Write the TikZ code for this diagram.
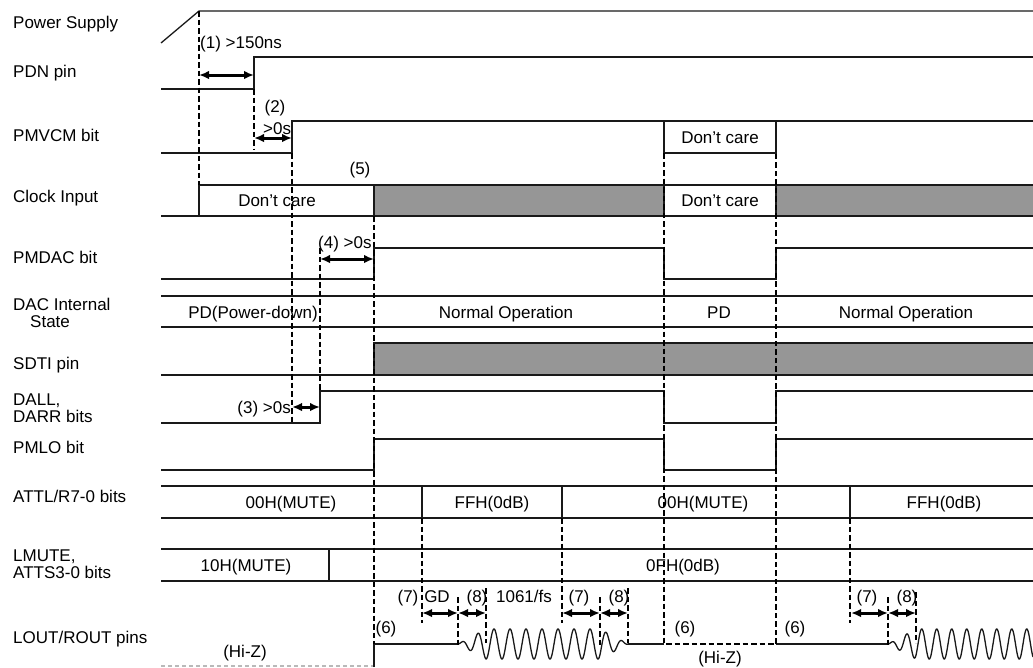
\documentclass[tikz,border=0pt]{standalone}
\usepackage{fontspec}
\setmainfont{Liberation Sans}
\usetikzlibrary{arrows.meta}
\definecolor{sdgray}{RGB}{150,150,150}
\definecolor{hizgray}{RGB}{185,185,185}
\definecolor{linecol}{RGB}{25,25,25}
\begin{document}
\begin{tikzpicture}[x=1pt,y=-1pt,
  sig/.style={line width=1.3pt, draw=linecol},
  tmark/.style={line width=2.4pt, dash pattern=on 5.5pt off 3pt},
  dimarrow/.style={line width=3pt, <->, >={Latex[length=10pt,width=8.5pt]}},
  hiz/.style={line width=1.1pt, draw=hizgray, dash pattern=on 4pt off 3pt},
  lbl/.style={anchor=base west, inner sep=0pt, font=\fontsize{17}{17}\selectfont},
  txt/.style={anchor=base, inner sep=0pt, font=\fontsize{17}{17}\selectfont},
]
\useasboundingbox (0,0) rectangle (1033,667);

% ---------- row labels ----------
\node[lbl] (lPS)  at (13,28)  {Power Supply};
\node[lbl] (lPDN) at (13,77)  {PDN pin};
\node[lbl] (lVCM) at (13,141) {PMVCM bit};
\node[lbl] (lCLK) at (13,202) {Clock Input};
\node[lbl] (lDAC) at (13,263) {PMDAC bit};
\node[lbl] (lST1) at (13,310) {DAC Internal};
\node[lbl] (lST2) at (30,327) {State};
\node[lbl] (lSD)  at (13,369) {SDTI pin};
\node[lbl] (lDA1) at (13,405) {DALL,};
\node[lbl] (lDA2) at (13,422) {DARR bits};
\node[lbl] (lLO)  at (13,453) {PMLO bit};
\node[lbl] (lAT)  at (13,502) {ATTL/R7-0 bits};
\node[lbl] (lLM1) at (13,561) {LMUTE,};
\node[lbl] (lLM2) at (13,578) {ATTS3-0 bits};
\node[lbl] (lOUT) at (13,643) {LOUT/ROUT pins};

% ---------- grey (valid data) areas ----------
\fill[sdgray] (374,185) rectangle (664,216);
\fill[sdgray] (776,185) rectangle (1033,216);
\fill[sdgray] (374,343) rectangle (1033,375);

% ---------- signals ----------
% Power Supply
\draw[sig] (161,43) -- (199,11) -- (1033,11);
% PDN
\draw[sig] (161,89) -- (254,89) -- (254,57) -- (1033,57);
% PMVCM
\draw[sig] (161,153) -- (292,153) -- (292,121) -- (1033,121);
\draw[sig] (664,121) -- (664,153) -- (776,153) -- (776,121);
% Clock input
\draw[sig] (161,216) -- (1033,216);
\draw[sig] (199,216) -- (199,185) -- (1033,185);
\draw[sig] (374,185) -- (374,216);
\draw[sig] (664,185) -- (664,216);
\draw[sig] (776,185) -- (776,216);
% PMDAC
\draw[sig] (161,279) -- (374,279) -- (374,248) -- (664,248) -- (664,279) -- (776,279) -- (776,248) -- (1033,248);
% DAC internal state
\draw[sig] (161,296) -- (1033,296);
\draw[sig] (161,327) -- (1033,327);
% SDTI
\draw[sig] (161,375) -- (1033,375);
\draw[sig] (374,375) -- (374,343) -- (1033,343);
% DALL, DARR
\draw[sig] (161,423) -- (320,423) -- (320,391) -- (664,391) -- (664,423) -- (776,423) -- (776,391) -- (1033,391);
% PMLO
\draw[sig] (161,470) -- (374,470) -- (374,439) -- (664,439) -- (664,470) -- (776,470) -- (776,439) -- (1033,439);
% ATTL/R
\draw[sig] (161,486) -- (1033,486);
\draw[sig] (161,518) -- (1033,518);
\draw[sig] (422,486) -- (422,518);
\draw[sig] (562,486) -- (562,518);
\draw[sig] (850,486) -- (850,518);
% LMUTE, ATTS
\draw[sig] (161,549) -- (1033,549);
\draw[sig] (161,581) -- (1033,581);
\draw[sig] (329,549) -- (329,581);
% LOUT/ROUT
\draw[hiz] (161,666) -- (374,666);
\draw[sig] (374,667) -- (374,644) -- (458,644);
\draw[sig] plot[domain=458:628, samples=500, smooth] (\x, {644 - 15*min(1,(\x-458)/28,(628-\x)/28)*sin((\x-458)*22.5)});
\draw[sig] (628,644) -- (664,644);
\draw[sig] (776,644) -- (888,644);
\draw[sig] plot[domain=888:1033, samples=450, smooth] (\x, {644 - 15*min(1,(\x-888)/28)*sin((\x-888)*24)});

% ---------- timing marks ----------
\draw[tmark] (199,11) -- (199,185);
\draw[tmark] (254,89) -- (254,150);
\draw[tmark] (292,153) -- (292,423);
\draw[tmark] (320,248) -- (320,391);
\draw[tmark] (374,216) -- (374,644);
\draw[tmark] (664,153) -- (664,644) -- (776,644) -- (776,153);
\draw[tmark] (422,518) -- (422,623);
\draw[tmark] (562,518) -- (562,623);
\draw[tmark] (850,518) -- (850,623);
\draw[tmark] (458,597) -- (458,647);
\draw[tmark] (600,597) -- (600,647);
\draw[tmark] (888,597) -- (888,647);
\draw[tmark] (486,588) -- (486,643);
\draw[tmark] (628,588) -- (628,643);
\draw[tmark] (916,592) -- (916,643);

% ---------- interval arrows ----------
\draw[dimarrow] (199,75) -- (254,75);
\draw[dimarrow] (254,138) -- (292,138);
\draw[dimarrow] (320,259) -- (374,259);
\draw[dimarrow] (292,407) -- (320,407);
\draw[dimarrow] (422,613) -- (458,613);
\draw[dimarrow] (458,613) -- (486,613);
\draw[dimarrow] (562,613) -- (600,613);
\draw[dimarrow] (600,613) -- (628,613);
\draw[dimarrow] (851,613) -- (888,613);
\draw[dimarrow] (888,613) -- (916,613);

% ---------- texts ----------
\node[txt, anchor=base west] (t1) at (200,48) {(1) >150ns};
\node[txt] (t2a) at (275,112) {(2)};
\node[txt, anchor=base west] (t2b) at (263,134) {>0s};
\node[txt] (t5) at (360,174) {(5)};
\node[txt] (dc1) at (277,206) {Don’t care};
\node[txt] (dc2) at (720,143) {Don’t care};
\node[txt] (dc3) at (720,206) {Don’t care};
\node[txt, anchor=base west] (t4) at (318,248) {(4) >0s};
\node[txt, anchor=base east] (t3) at (291,413) {(3) >0s};
\node[txt] (s1) at (253,318) {PD(Power-down)};
\node[txt] (s2) at (506,318) {Normal Operation};
\node[txt] (s3) at (719,318) {PD};
\node[txt] (s4) at (906,318) {Normal Operation};
\node[txt] (a1) at (291,508) {00H(MUTE)};
\node[txt] (a2) at (492,508) {FFH(0dB)};
\node[txt] (a3) at (703,508) {00H(MUTE)};
\node[txt] (a4) at (944,508) {FFH(0dB)};
\node[txt] (m1) at (246,571) {10H(MUTE)};
\node[txt] (m2) at (683,571) {0FH(0dB)};
\node[txt] (n7a) at (408,602) {(7)};
\node[txt] (gd) at (437,602) {GD};
\node[txt] (n8a) at (477,602) {(8)};
\node[txt] (fs) at (524,602) {1061/fs};
\node[txt] (n7b) at (579,602) {(7)};
\node[txt] (n8b) at (619,602) {(8)};
\node[txt] (n7c) at (867,602) {(7)};
\node[txt] (n8c) at (907,602) {(8)};
\node[txt] (n6a) at (386,633) {(6)};
\node[txt] (n6b) at (685,633) {(6)};
\node[txt] (n6c) at (795,633) {(6)};
\node[txt] (hz1) at (245,657) {(Hi-Z)};
\node[txt] (hz2) at (720,663) {(Hi-Z)};
\end{tikzpicture}
\end{document}
